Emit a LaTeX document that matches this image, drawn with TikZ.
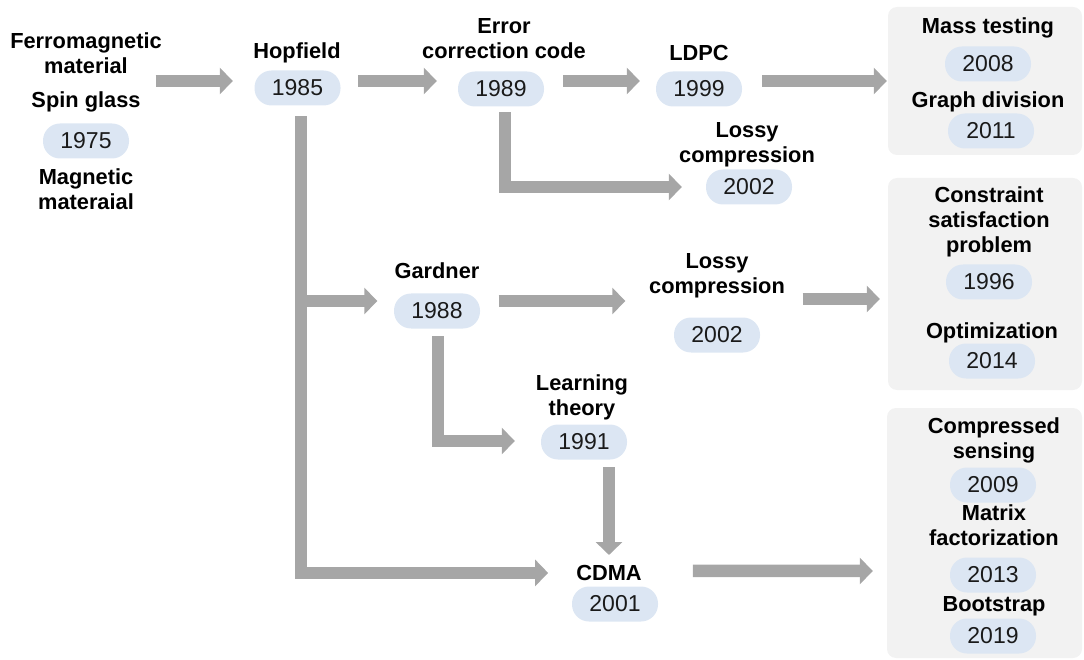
\documentclass[tikz,border=0pt]{standalone}
\usepackage{fontspec}
\setmainfont{Liberation Sans}
\usetikzlibrary{arrows.meta}
\definecolor{arrowgray}{HTML}{A6A6A6}
\definecolor{pillblue}{HTML}{DCE6F3}
\definecolor{panelgray}{HTML}{F2F2F2}
\definecolor{yeartext}{HTML}{1A1A1A}

\begin{document}
\begin{tikzpicture}[x=1pt,y=-1pt,
  topic/.style={font=\bfseries\fontsize{21.8}{25}\selectfont, align=center, inner sep=0pt, anchor=north},
  year/.style={fill=pillblue, rounded corners=17pt, minimum width=86pt, minimum height=35pt,
               inner sep=0pt, text=yeartext, font=\fontsize{23}{27}\selectfont},
  panel/.style={fill=panelgray, rounded corners=9pt, inner sep=0pt},
  flow/.style={color=arrowgray, line width=12.5pt, -{Triangle[length=13pt,width=26pt]}, line join=miter}
]
\useasboundingbox (0,0) rectangle (1084,660);

% grey panels collecting the later applications
\node[panel, minimum width=194pt, minimum height=148pt] (box1) at (985,81) {};
\node[panel, minimum width=194pt, minimum height=212pt] (box2) at (985,284) {};
\node[panel, minimum width=195pt, minimum height=250pt] (box3) at (984.5,533) {};

% origin column
\node[topic] (ferro) at (86,33) {Ferromagnetic\\material};
\node[topic] (spin) at (86,92) {Spin glass};
\node[year] (y1975) at (86,141) {1975};
\node[topic] (magnet) at (86,169) {Magnetic\\materaial};

% top row
\node[topic] (hop) at (297,43) {Hopfield};
\node[year] (y1985) at (297.5,88) {1985};
\node[topic] (ecc) at (504,18) {Error\\correction code};
\node[year] (y1989) at (501,89) {1989};
\node[topic] (ldpc) at (699,45) {LDPC};
\node[year] (y1999) at (699,89) {1999};
\node[topic] (lossya) at (747,122) {Lossy\\compression};
\node[year] (y2002a) at (749,187) {2002};

\node[topic] (mass) at (988,18) {Mass testing};
\node[year] (y2008) at (988,64) {2008};
\node[topic] (graph) at (988,92) {Graph division};
\node[year] (y2011) at (991,131) {2011};

% middle row
\node[topic] (gard) at (437,263) {Gardner};
\node[year] (y1988) at (437,311) {1988};
\node[topic] (lossyb) at (717,253) {Lossy\\compression};
\node[year] (y2002b) at (717,335) {2002};

\node[topic] (csp) at (989,187) {Constraint\\satisfaction\\problem};
\node[year] (y1996) at (989,282) {1996};
\node[topic] (optim) at (992,323) {Optimization};
\node[year] (y2014) at (992,361) {2014};

% lower row
\node[topic] (learn) at (582,375) {Learning\\theory};
\node[year] (y1991) at (584,442) {1991};
\node[topic] (cdma) at (609,565) {CDMA};
\node[year] (y2001) at (615,604) {2001};

\node[topic] (cs) at (994,418) {Compressed\\sensing};
\node[year] (y2009) at (993,485) {2009};
\node[topic] (mf) at (994,505) {Matrix\\factorization};
\node[year] (y2013) at (993,575) {2013};
\node[topic] (boot) at (994,596) {Bootstrap};
\node[year] (y2019) at (993,636) {2019};

% connectors
\draw[flow] ([shift={(15,-11)}]spin.north east) -- ([shift={(-21.5,-7)}]y1985.west);
\draw[flow] ([shift={(17.5,-7)}]y1985.east) -- ([shift={(-21,-8)}]y1989.west);
\draw[flow] ([shift={(19,-8)}]y1989.east) -- ([shift={(-16,-8)}]y1999.west);
\draw[flow] ([shift={(20,-8)}]y1999.east) -- ([xshift=-1pt]box1.west);
\draw[flow] ([shift={(4,5.5)}]y1989.south) |- ([xshift=-24pt]y2002a.west);
\draw[flow] ([shift={(3.5,10.5)}]y1985.south) |- ([xshift=-28pt]cdma.west);
\draw[flow] ([shift={(-93,-10)}]y1988.west) -- ([shift={(-16.5,-10)}]y1988.west);
\draw[flow] ([shift={(18.5,-10)}]y1988.east) -- ([shift={(-48.5,-34)}]y2002b.west);
\draw[flow] ([shift={(42.5,-36)}]y2002b.east) -- ([shift={(-8,15)}]box2.west);
\draw[flow] ([shift={(1,7.5)}]y1988.south) |- ([shift={(-26,-1)}]y1991.west);
\draw[flow] ([shift={(25,7.5)}]y1991.south) -- ([shift={(0,-10)}]cdma.north);
\draw[flow] ([shift={(51,-2)}]cdma.east) -- ([shift={(-14,38)}]box3.west);
\end{tikzpicture}
\end{document}
